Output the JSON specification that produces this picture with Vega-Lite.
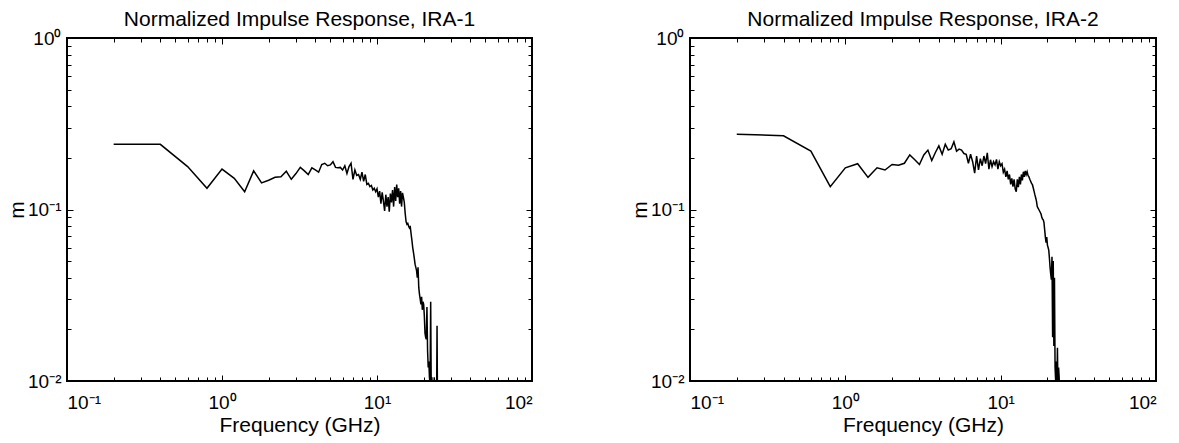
{
  "$schema": "https://vega.github.io/schema/vega-lite/v6.json",
  "padding": {"left": 5, "top": 8, "right": 5, "bottom": 2},
  "background": "white",
  "bounds": "flush",
  "spacing": 158,
  "config": {
    "font": "Liberation Sans",
    "view": {"stroke": "black", "strokeWidth": 2},
    "axis": {"grid": false, "domain": false, "tickColor": "black", "tickWidth": 1, "labelColor": "black", "titleColor": "black", "labelFontSize": 19, "titleFontSize": 21, "titleFontWeight": "normal", "labelOverlap": false, "labelFont": "Liberation Sans", "titleFont": "Liberation Sans"},
    "title": {"fontSize": 21, "fontWeight": "normal", "color": "black", "font": "Liberation Sans", "offset": -1}
  },
  "hconcat": [
    {
      "width": 465,
      "height": 343,
      "title": "Normalized Impulse Response, IRA-1",
      "data": {"values": [
        {"f":0.2,"m":0.240},{"f":0.4,"m":0.240},{"f":0.6,"m":0.178},{"f":0.8,"m":0.133},{"f":1.0,"m":0.172},{"f":1.2,"m":0.152},{"f":1.4,"m":0.127},{"f":1.6,"m":0.168},{"f":1.8,"m":0.143},{"f":2.0,"m":0.148},
        {"f":2.2,"m":0.154},{"f":2.4,"m":0.155},{"f":2.6,"m":0.167},{"f":2.8,"m":0.150},{"f":3.0,"m":0.162},{"f":3.2,"m":0.176},{"f":3.4,"m":0.168},{"f":3.6,"m":0.160},{"f":3.8,"m":0.175},{"f":4.0,"m":0.170},
        {"f":4.2,"m":0.165},{"f":4.4,"m":0.183},{"f":4.6,"m":0.186},{"f":4.8,"m":0.180},{"f":5.0,"m":0.182},{"f":5.2,"m":0.190},{"f":5.4,"m":0.176},{"f":5.6,"m":0.175},{"f":5.8,"m":0.176},{"f":6.0,"m":0.170},
        {"f":6.2,"m":0.180},{"f":6.4,"m":0.162},{"f":6.6,"m":0.178},{"f":6.8,"m":0.186},{"f":7.0,"m":0.150},{"f":7.2,"m":0.170},{"f":7.4,"m":0.158},{"f":7.6,"m":0.160},{"f":7.8,"m":0.150},{"f":8.0,"m":0.165},
        {"f":8.2,"m":0.146},{"f":8.4,"m":0.160},{"f":8.6,"m":0.140},{"f":8.8,"m":0.142},{"f":9.0,"m":0.136},{"f":9.2,"m":0.138},{"f":9.4,"m":0.130},{"f":9.6,"m":0.133},{"f":9.8,"m":0.127},{"f":10.0,"m":0.132},
        {"f":10.2,"m":0.118},{"f":10.4,"m":0.128},{"f":10.6,"m":0.108},{"f":10.8,"m":0.126},{"f":11.0,"m":0.112},{"f":11.2,"m":0.098},{"f":11.4,"m":0.122},{"f":11.6,"m":0.104},{"f":11.8,"m":0.118},{"f":12.0,"m":0.097},
        {"f":12.2,"m":0.124},{"f":12.4,"m":0.110},{"f":12.6,"m":0.130},{"f":12.8,"m":0.104},{"f":13.0,"m":0.135},{"f":13.2,"m":0.112},{"f":13.4,"m":0.140},{"f":13.6,"m":0.118},{"f":13.8,"m":0.133},{"f":14.0,"m":0.108},
        {"f":14.2,"m":0.128},{"f":14.4,"m":0.104},{"f":14.6,"m":0.125},{"f":14.8,"m":0.118},{"f":15.0,"m":0.110},{"f":15.2,"m":0.095},{"f":15.4,"m":0.085},{"f":15.6,"m":0.082},{"f":15.8,"m":0.083},{"f":16.0,"m":0.080},
        {"f":16.2,"m":0.078},{"f":16.4,"m":0.079},{"f":16.6,"m":0.072},{"f":16.8,"m":0.066},{"f":17.0,"m":0.060},{"f":17.2,"m":0.056},{"f":17.4,"m":0.052},{"f":17.6,"m":0.048},{"f":17.8,"m":0.046},{"f":18.0,"m":0.044},
        {"f":18.2,"m":0.040},{"f":18.4,"m":0.046},{"f":18.6,"m":0.035},{"f":18.8,"m":0.032},{"f":19.0,"m":0.030},{"f":19.2,"m":0.028},{"f":19.4,"m":0.031},{"f":19.6,"m":0.026},{"f":19.8,"m":0.029},{"f":20.0,"m":0.028},
        {"f":20.2,"m":0.024},{"f":20.4,"m":0.019},{"f":20.6,"m":0.018},{"f":20.8,"m":0.0175},{"f":21.0,"m":0.027},{"f":21.2,"m":0.015},{"f":21.4,"m":0.012},{"f":21.6,"m":0.013},{"f":21.8,"m":0.0105},{"f":22.0,"m":0.0095},
        {"f":22.2,"m":0.029},{"f":22.4,"m":0.008},{"f":22.6,"m":0.0105},{"f":22.8,"m":0.007},{"f":23.0,"m":0.0095},{"f":23.2,"m":0.006},{"f":23.4,"m":0.0105},{"f":23.6,"m":0.0095},{"f":23.8,"m":0.005},{"f":24.0,"m":0.008},
        {"f":24.2,"m":0.006},{"f":24.4,"m":0.021},{"f":24.6,"m":0.006},{"f":24.8,"m":0.004},{"f":25.0,"m":0.005},{"f":25.2,"m":0.003}
      ]},
      "layer": [
        {
          "mark": {"type": "line", "color": "black", "strokeWidth": 1.5, "clip": true},
          "encoding": {
            "x": {"field": "f", "type": "quantitative", "scale": {"type": "log", "domain": [0.1, 100]}, "title": "Frequency (GHz)",
              "axis": {"orient": "bottom", "values": [0.1,0.2,0.3,0.4,0.5,0.6,0.7,0.8,0.9,1,2,3,4,5,6,7,8,9,10,20,30,40,50,60,70,80,90,100],
                "labelExpr": "datum.value == 0.1 ? '10⁻¹' : datum.value == 1 ? '10⁰' : datum.value == 10 ? '10¹' : datum.value == 100 ? '10²' : ''",
                "tickSize": {"condition": {"test": "datum.value == 0.1 || datum.value == 1 || datum.value == 10 || datum.value == 100", "value": -6}, "value": -4},
                "labelPadding": 18, "titlePadding": 0}},
            "y": {"field": "m", "type": "quantitative", "scale": {"type": "log", "domain": [0.01, 1]}, "title": "m",
              "axis": {"orient": "left", "values": [0.01,0.02,0.03,0.04,0.05,0.06,0.07,0.08,0.09,0.1,0.2,0.3,0.4,0.5,0.6,0.7,0.8,0.9,1],
                "labelExpr": "datum.value == 0.01 ? '10⁻²' : datum.value == 0.1 ? '10⁻¹' : datum.value == 1 ? '10⁰' : ''",
                "tickSize": {"condition": {"test": "datum.value == 0.01 || datum.value == 0.1 || datum.value == 1", "value": -6}, "value": -4},
                "labelPadding": 12, "titlePadding": 0}}
          }
        },
        {
          "mark": {"type": "line", "opacity": 0},
          "encoding": {
            "x": {"field": "f", "type": "quantitative", "scale": {"type": "log", "domain": [0.1, 100]}, "title": null,
              "axis": {"orient": "top", "labels": false, "values": [0.1,0.2,0.3,0.4,0.5,0.6,0.7,0.8,0.9,1,2,3,4,5,6,7,8,9,10,20,30,40,50,60,70,80,90,100],
                "tickSize": {"condition": {"test": "datum.value == 0.1 || datum.value == 1 || datum.value == 10 || datum.value == 100", "value": -6}, "value": -4}}},
            "y": {"field": "m", "type": "quantitative", "scale": {"type": "log", "domain": [0.01, 1]}, "title": null,
              "axis": {"orient": "right", "labels": false, "values": [0.01,0.02,0.03,0.04,0.05,0.06,0.07,0.08,0.09,0.1,0.2,0.3,0.4,0.5,0.6,0.7,0.8,0.9,1],
                "tickSize": {"condition": {"test": "datum.value == 0.01 || datum.value == 0.1 || datum.value == 1", "value": -6}, "value": -4}}}
          }
        }
      ],
      "resolve": {"axis": {"x": "independent", "y": "independent"}}
    },
    {
      "width": 466,
      "height": 343,
      "title": "Normalized Impulse Response, IRA-2",
      "data": {"values": [
        {"f":0.2,"m":0.275},{"f":0.4,"m":0.269},{"f":0.6,"m":0.219},{"f":0.8,"m":0.136},{"f":1.0,"m":0.175},{"f":1.2,"m":0.185},{"f":1.4,"m":0.154},{"f":1.6,"m":0.175},{"f":1.8,"m":0.170},{"f":2.0,"m":0.183},
        {"f":2.2,"m":0.181},{"f":2.4,"m":0.186},{"f":2.6,"m":0.208},{"f":2.8,"m":0.195},{"f":3.0,"m":0.183},{"f":3.2,"m":0.208},{"f":3.4,"m":0.222},{"f":3.6,"m":0.193},{"f":3.8,"m":0.215},{"f":4.0,"m":0.235},
        {"f":4.2,"m":0.210},{"f":4.4,"m":0.240},{"f":4.6,"m":0.222},{"f":4.8,"m":0.226},{"f":5.0,"m":0.248},{"f":5.2,"m":0.219},{"f":5.4,"m":0.225},{"f":5.6,"m":0.222},{"f":5.8,"m":0.212},{"f":6.0,"m":0.210},
        {"f":6.2,"m":0.186},{"f":6.4,"m":0.210},{"f":6.6,"m":0.190},{"f":6.8,"m":0.163},{"f":7.0,"m":0.205},{"f":7.2,"m":0.170},{"f":7.4,"m":0.198},{"f":7.6,"m":0.180},{"f":7.8,"m":0.205},{"f":8.0,"m":0.185},
        {"f":8.2,"m":0.214},{"f":8.4,"m":0.172},{"f":8.6,"m":0.195},{"f":8.8,"m":0.178},{"f":9.0,"m":0.190},{"f":9.2,"m":0.182},{"f":9.4,"m":0.196},{"f":9.6,"m":0.172},{"f":9.8,"m":0.190},{"f":10.0,"m":0.180},
        {"f":10.2,"m":0.185},{"f":10.4,"m":0.165},{"f":10.6,"m":0.172},{"f":10.8,"m":0.155},{"f":11.0,"m":0.168},{"f":11.2,"m":0.150},{"f":11.4,"m":0.160},{"f":11.6,"m":0.140},{"f":11.8,"m":0.152},{"f":12.0,"m":0.136},
        {"f":12.2,"m":0.150},{"f":12.4,"m":0.132},{"f":12.6,"m":0.127},{"f":12.8,"m":0.150},{"f":13.0,"m":0.135},{"f":13.2,"m":0.155},{"f":13.4,"m":0.140},{"f":13.6,"m":0.160},{"f":13.8,"m":0.148},{"f":14.0,"m":0.166},
        {"f":14.2,"m":0.155},{"f":14.4,"m":0.168},{"f":14.6,"m":0.160},{"f":14.8,"m":0.166},{"f":15.0,"m":0.158},{"f":15.2,"m":0.155},{"f":15.4,"m":0.150},{"f":15.6,"m":0.146},{"f":15.8,"m":0.142},{"f":16.0,"m":0.140},
        {"f":16.2,"m":0.134},{"f":16.4,"m":0.128},{"f":16.6,"m":0.122},{"f":16.8,"m":0.117},{"f":17.0,"m":0.112},{"f":17.2,"m":0.104},{"f":17.4,"m":0.102},{"f":17.6,"m":0.100},{"f":17.8,"m":0.098},{"f":18.0,"m":0.096},
        {"f":18.2,"m":0.094},{"f":18.4,"m":0.090},{"f":18.6,"m":0.088},{"f":18.8,"m":0.087},{"f":19.0,"m":0.084},{"f":19.2,"m":0.076},{"f":19.4,"m":0.069},{"f":19.6,"m":0.064},{"f":19.8,"m":0.069},{"f":20.0,"m":0.062},
        {"f":20.2,"m":0.060},{"f":20.4,"m":0.058},{"f":20.6,"m":0.052},{"f":20.8,"m":0.046},{"f":21.0,"m":0.042},{"f":21.2,"m":0.039},{"f":21.4,"m":0.053},{"f":21.6,"m":0.018},{"f":21.8,"m":0.050},{"f":22.0,"m":0.016},
        {"f":22.2,"m":0.040},{"f":22.4,"m":0.012},{"f":22.6,"m":0.010},{"f":22.8,"m":0.013},{"f":23.0,"m":0.009},{"f":23.2,"m":0.0156},{"f":23.4,"m":0.008},{"f":23.6,"m":0.012},{"f":23.8,"m":0.0105},{"f":24.0,"m":0.007},
        {"f":24.2,"m":0.005},{"f":24.4,"m":0.004}
      ]},
      "layer": [
        {
          "mark": {"type": "line", "color": "black", "strokeWidth": 1.5, "clip": true},
          "encoding": {
            "x": {"field": "f", "type": "quantitative", "scale": {"type": "log", "domain": [0.1, 100]}, "title": "Frequency (GHz)",
              "axis": {"orient": "bottom", "values": [0.1,0.2,0.3,0.4,0.5,0.6,0.7,0.8,0.9,1,2,3,4,5,6,7,8,9,10,20,30,40,50,60,70,80,90,100],
                "labelExpr": "datum.value == 0.1 ? '10⁻¹' : datum.value == 1 ? '10⁰' : datum.value == 10 ? '10¹' : datum.value == 100 ? '10²' : ''",
                "tickSize": {"condition": {"test": "datum.value == 0.1 || datum.value == 1 || datum.value == 10 || datum.value == 100", "value": -6}, "value": -4},
                "labelPadding": 18, "titlePadding": 0}},
            "y": {"field": "m", "type": "quantitative", "scale": {"type": "log", "domain": [0.01, 1]}, "title": "m",
              "axis": {"orient": "left", "values": [0.01,0.02,0.03,0.04,0.05,0.06,0.07,0.08,0.09,0.1,0.2,0.3,0.4,0.5,0.6,0.7,0.8,0.9,1],
                "labelExpr": "datum.value == 0.01 ? '10⁻²' : datum.value == 0.1 ? '10⁻¹' : datum.value == 1 ? '10⁰' : ''",
                "tickSize": {"condition": {"test": "datum.value == 0.01 || datum.value == 0.1 || datum.value == 1", "value": -6}, "value": -4},
                "labelPadding": 12, "titlePadding": 0}}
          }
        },
        {
          "mark": {"type": "line", "opacity": 0},
          "encoding": {
            "x": {"field": "f", "type": "quantitative", "scale": {"type": "log", "domain": [0.1, 100]}, "title": null,
              "axis": {"orient": "top", "labels": false, "values": [0.1,0.2,0.3,0.4,0.5,0.6,0.7,0.8,0.9,1,2,3,4,5,6,7,8,9,10,20,30,40,50,60,70,80,90,100],
                "tickSize": {"condition": {"test": "datum.value == 0.1 || datum.value == 1 || datum.value == 10 || datum.value == 100", "value": -6}, "value": -4}}},
            "y": {"field": "m", "type": "quantitative", "scale": {"type": "log", "domain": [0.01, 1]}, "title": null,
              "axis": {"orient": "right", "labels": false, "values": [0.01,0.02,0.03,0.04,0.05,0.06,0.07,0.08,0.09,0.1,0.2,0.3,0.4,0.5,0.6,0.7,0.8,0.9,1],
                "tickSize": {"condition": {"test": "datum.value == 0.01 || datum.value == 0.1 || datum.value == 1", "value": -6}, "value": -4}}}
          }
        }
      ],
      "resolve": {"axis": {"x": "independent", "y": "independent"}}
    }
  ]
}
